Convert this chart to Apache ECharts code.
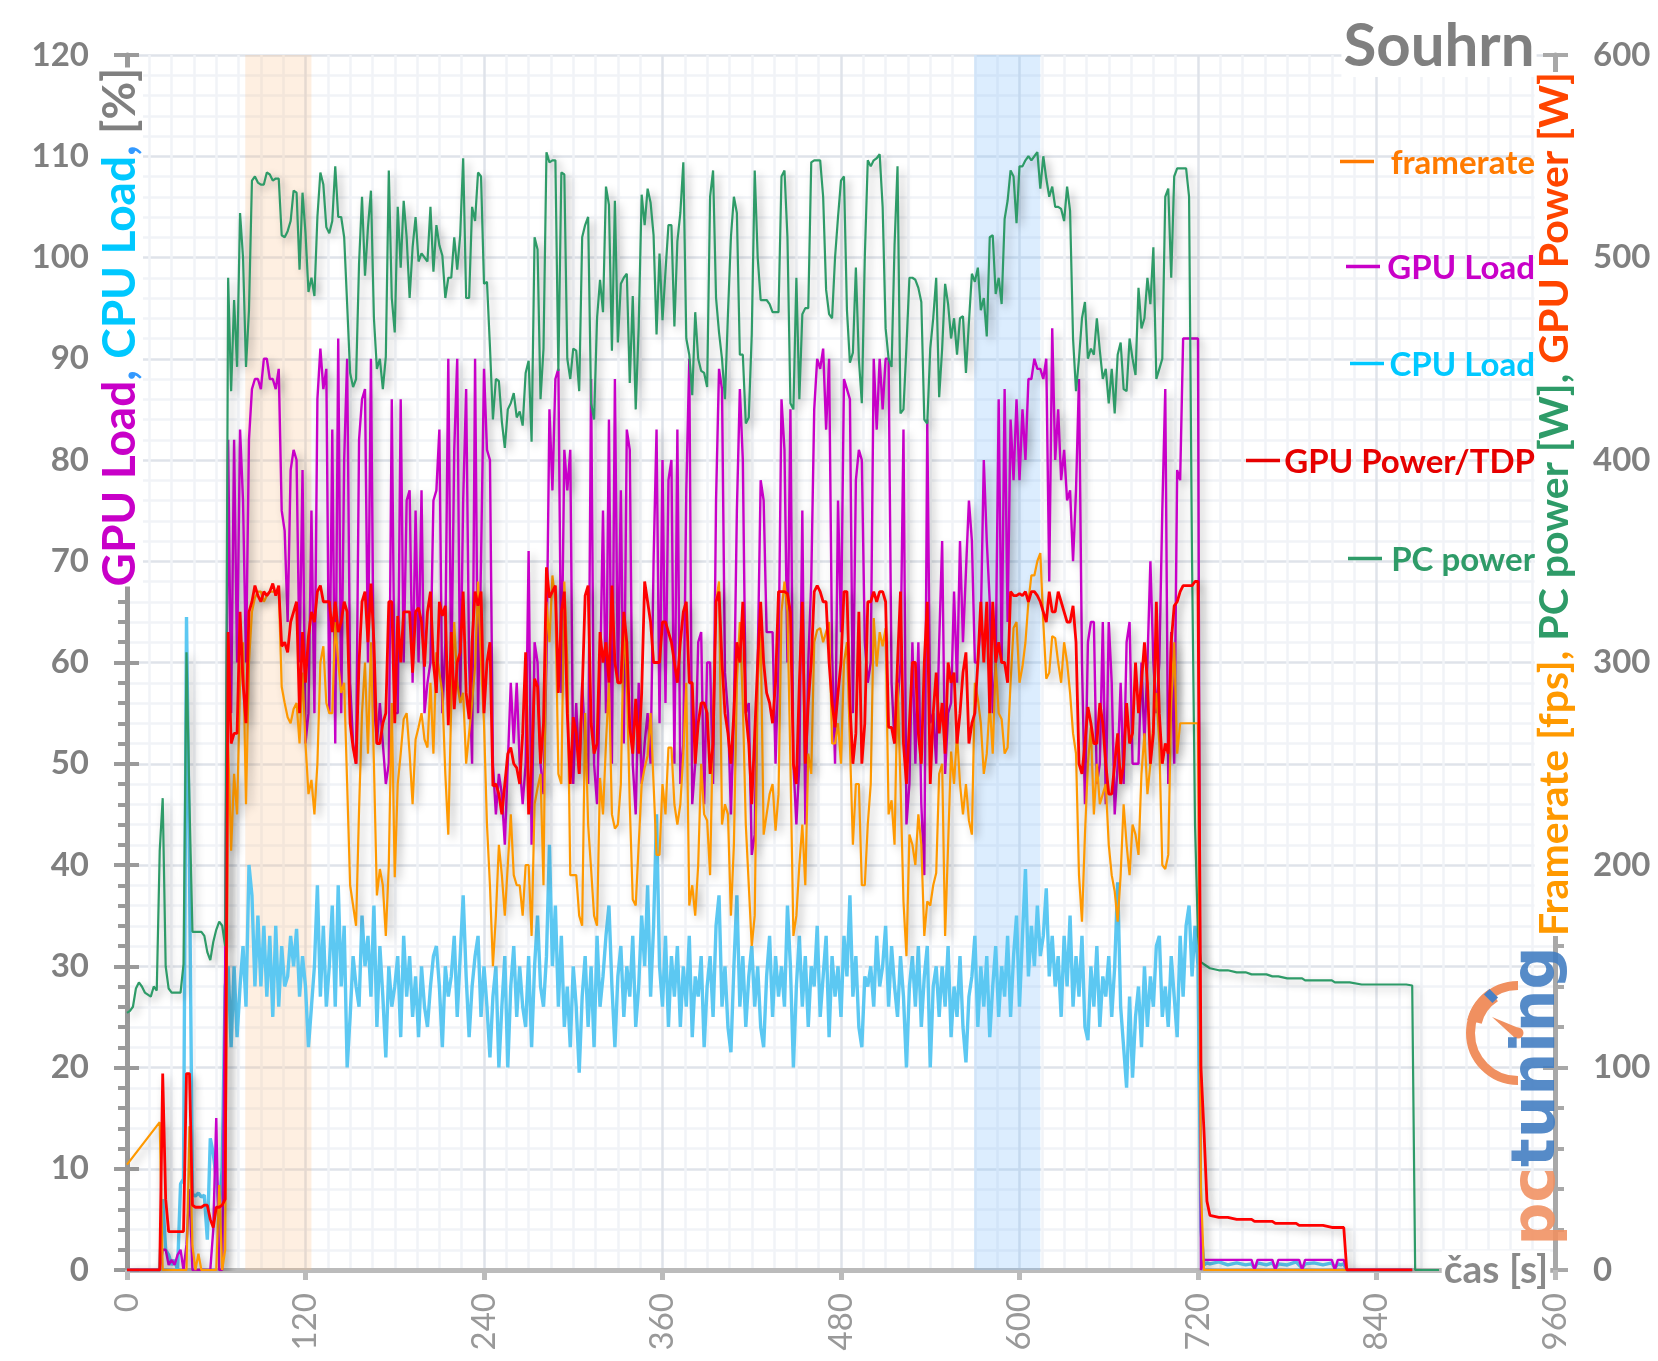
<!DOCTYPE html>
<html>
<head>
<meta charset="utf-8">
<title>Souhrn</title>
<script src="https://cdn.jsdelivr.net/npm/echarts@6/dist/echarts.min.js"></script>
<style>
  html, body { margin: 0; padding: 0; background: #fff; }
  #chart { width: 1658px; height: 1361px; }
</style>
</head>
<body>
<div id="chart"></div>
<script>
// cas: 0-720 s po 2 s, potom dobeh
var tailSeconds = [722,724,726,728,734,740,746,752,756,758,760,766,770,772,774,780,786,788,790,792,798,804,810,812,814,816,818,820,822,830,840,850,860,864,866,872,882];

// zvyraznene useky [od, do] a jejich barvy
var bandRanges = [[79.5, 124], [569.5, 614]];
var bandColors = ['rgba(250,190,130,0.24)', 'rgba(130,190,250,0.28)'];

var xTickMax = 960;
var legendNames = ['framerate', 'GPU Load', 'CPU Load', 'GPU Power/TDP', 'PC power'];

// PC power [W]
var pcPowerStart = [127,128,130,139,142,140,137,136,135,140,138,207,233,150,139,137,137,137,137,151,305,230,167,167,167,167,165,157,153,162,168,172,170,160];
var pcPowerMain = [
  490,434,479,446,522,500,446,474,538,540,
  537,536,536,542,541,538,539,539,511,510,
  513,518,533,532,494,532,512,483,490,481,
  520,542,536,515,512,518,545,520,520,510,
  477,443,436,440,497,530,491,515,533,470,
  445,450,435,451,543,480,463,525,495,528,
  510,480,505,520,498,502,500,498,525,493,
  516,506,501,480,490,490,510,494,511,549,
  480,480,525,518,542,540,487,488,456,420,
  440,439,419,406,425,428,433,421,424,417,
  443,449,409,510,504,430,455,552,547,548,
  548,444,542,541,450,440,455,454,434,510,
  516,520,428,420,470,489,473,535,526,454,
  528,458,487,490,492,438,481,425,466,531,
  516,534,527,511,462,502,469,493,516,516,
  466,508,522,547,460,452,432,473,450,444,
  443,436,530,543,480,463,450,430,472,510,
  530,522,452,452,418,421,462,543,500,479,
  479,479,477,473,473,473,540,543,510,428,
  425,490,430,472,475,475,547,548,548,548,
  530,484,472,470,500,520,538,540,474,448,
  453,495,450,428,500,548,545,548,549,551,
  525,465,450,446,506,545,423,425,456,490,
  490,489,485,478,420,418,455,470,490,431,
  455,487,477,460,470,452,470,471,443,468,
  492,488,495,474,480,461,510,511,482,490,
  477,519,528,543,540,517,545,545,548,550,
  548,550,552,534,550,539,530,535,525,525,
  524,518,535,523,460,434,450,470,478,450,
  455,452,470,454,440,445,428,445,423,452,
  458,435,434,460,450,442,485,465,470,490,
  477,505,440,445,450,530,534,490,540,544,
  544,544,544,530,350,220,165];
var pcPowerTail = [152,151,150,149,148,148,147,147,146,146,146,146,145,145,145,144,144,144,144,143,143,143,143,142,142,142,142,142,142,141,141,141,141,140.5,0,0,0];

// GPU Load [%]
var gpuLoadStart = [0,0,0,0,0,0,0,0,0,0,0,0,2,2,0.5,1,0.5,1.5,2,0,2.5,8,0,0,0,0,0,0,0,4,15,0,0,30];
var gpuLoadMain = [
  82,55,82,60,83,76,60,82,87,88,
  88,87,90,90,88,88,87,89,75,73,
  64,79,81,80,60,79,52,55,75,55,
  86,91,87,89,55,83,52,92,55,80,
  90,58,52,50,82,86,87,60,90,56,
  52,56,52,48,50,86,55,55,86,60,
  76,77,58,75,60,77,55,58,60,76,
  77,83,55,62,90,58,81,90,56,76,
  87,60,50,90,55,70,89,81,80,50,
  45,49,47,42,50,58,52,58,50,46,
  50,71,42,62,60,50,47,60,85,77,
  88,89,57,81,77,81,48,56,49,58,
  52,48,88,50,46,58,75,55,84,50,
  88,58,77,52,83,81,50,45,58,48,
  52,55,50,70,83,54,80,56,78,80,
  50,83,48,52,77,90,46,50,62,63,
  46,60,60,48,76,89,87,59,55,45,
  55,75,87,80,55,56,41,43,60,78,
  76,63,63,63,50,60,86,81,60,85,
  50,44,50,75,44,60,68,85,90,89,
  91,83,90,61,50,76,63,88,87,86,
  55,78,81,80,62,58,60,90,83,90,
  85,90,90,58,52,56,60,83,44,48,
  62,50,62,46,39,84,54,55,50,62,
  72,49,55,56,67,58,72,62,69,76,
  72,60,60,64,80,72,66,55,60,86,
  60,87,64,84,78,86,78,85,80,88,
  88,90,89,89,88,90,68,93,80,85,
  78,81,76,77,70,77,88,60,46,62,
  64,64,48,50,64,46,64,58,45,50,
  58,48,62,64,50,50,50,60,52,60,
  70,60,55,60,75,87,48,63,50,79,
  78,92,92,92,92,92,92];
var gpuLoadTail = [0,1,1,1,1,1,1,1,1,0,1,1,1,0,1,1,1,1,0,1,1,1,1,0,1,1,1,0,0,0,0,0,0,0,null,null,null];

// CPU Load [%]
var cpuLoadStart = [0,0,0,0,0,0,0,0,0,0,0,0,7,2,1.5,0.5,1,0,8.5,9,64.5,40,7.5,7.3,7.6,7.2,7.4,3,13,11.5,9,6,10,28];
var cpuLoadMain = [
  30,22,30,23,28,32,26,40,37,28,
  35,28,34,27,33,25,34,26,32,28,
  29,33,30,33.7,27,31,28,22,26,30,
  38,27,34,26,30,36,26,38,28,34,
  20,25,31,28,26,35,30,33,27,36,
  24,32,27,21,30,26,28,31,23,33,
  27,31,25,29,23,30,26,24,28,31,
  32,28,22,30,27,29,33,25,31,37,
  29,23,28,31,33,25,30,26,21,27,
  30,20,26,31,20,28,32,25,30,26,
  24,31,22,30,35,28,26,31,42,30,
  36,26,33,24,28,22,30,26,19.5,27,
  31,24,30,22,33,26,29,33,36,28,
  22,29,32,25,30,27,33,24,28,35,
  30,38,27,34,45,30,26,33,24,31,
  27,32,24,30,26,33,23,29,27,31,
  22,28,31,25,34,37,26,30,24,21.5,
  30,37,26,31,24,29,32,26,30,24,
  22,29,33,25,31,27,30,26,36,30,
  20,28,33,26,31,24,30,28,34,25,
  29,33,23,31,27,30,25,33,29,37,
  27,31,24,22,29,28,30,26,33,28,
  30,34,26,32,28,25,31,27,20,28,
  31,26,32,24,29,32,20,28,30,25,
  30,26,32,23,28,25,31,24,20.5,27,
  29,33,24,30,26,31,23,28,32,25,
  30,27,33,25,31,35,26,33,39.6,29,
  34,30,36,31,33,37.7,29,33,28,31,
  25,33,28,35,26,31,27,33,24,22.7,
  30,26,32,24,29,27,31,25,30,38.3,
  26,22,18,27,19,25,28,22,30,24,
  29,26,32,33,25,28,24,31,27,23,
  33,27,34,36,29,34,30];
var cpuLoadTail = [4,0.5,0.7,0.6,0.8,0.5,0.7,0.5,0.6,0.2,0.7,0.5,0.7,0.2,0.6,0.5,0.8,0.5,0.2,0.6,0.7,0.5,0.7,0.2,0.6,0.5,0.6,0,0,0,0,0,0,0,null,null,null];

// Framerate [fps], zacatek ma jen dva vzorky
var framerateStart = [52,null,null,null,null,null,null,null,null,null,null,73,0,0,0,0,0,0,0,0,0,71,12,0,8,0,0,0,0,0,0,42,0,10];
var framerateMain = [
  260,207,245,225,290,310,230,300,325,332,
  335,335,330,333,335,335,335,337,288,280,
  273,270,277,280,260,295,260,235,242,225,
  250,300,308,280,275,275,320,300,285,290,
  240,190,180,170,227,275,300,255,310,250,
  185,198,190,165,200,280,194,240,255,272,
  275,255,230,262,268,275,262,258,290,255,
  305,295,285,245,215,280,320,290,280,285,
  250,265,280,298,340,300,270,220,190,150,
  175,210,195,175,200,225,195,190,190,175,
  200,200,165,230,238,245,190,330,310,343,
  330,245,240,340,300,195,195,195,175,170,
  275,220,198,175,170,243,225,260,290,225,
  218,220,240,320,292,230,183,180,210,240,
  248,254,275,240,205,205,240,225,258,258,
  230,220,230,255,290,180,190,175,200,250,
  225,222,195,270,330,340,220,230,225,175,
  210,290,320,280,220,190,160,175,290,315,
  215,225,235,240,217,235,325,340,325,250,
  165,175,200,220,190,255,245,310,316,317,
  310,315,320,260,260,270,250,300,310,260,
  210,240,240,190,190,220,240,322,298,315,
  308,317,225,232,210,290,240,182,155,215,
  210,200,225,210,165,182,180,190,196,245,
  250,165,210,256,240,265,240,225,240,222,
  215,290,282,270,245,255,280,255,300,275,
  272,255,258,290,317,320,290,298,310,330,
  343,343,350,354,320,292,295,313,312,300,
  290,310,300,285,265,255,195,172,215,250,
  268,225,250,230,235,240,210,195,187,172,
  195,230,210,195,220,215,205,245,265,235,
  250,270,285,260,200,198,205,280,310,255,
  270,270,270,270,270,270,270];
var framerateTail = [40,0,0,0,0,0,0,0,0,0,0,0,0,0,0,0,0,0,0,0,0,0,0,0,0,0,0,0,0,0,0,0,0,0,null,null,null];

// GPU Power [W]
var gpuPowerStart = [0,0,0,0,0,0,0,0,0,0,0,0,97,35,19,19,19,19,19,19,97,97,32,31,31,31,32,32,25,21,31,31,32,35];
var gpuPowerMain = [
  315,260,265,265,325,290,270,325,330,338,
  333,330,335,333,335,339,333,338,308,310,
  305,320,325,330,275,315,290,313,325,320,
  335,338,330,330,330,315,330,315,320,330,
  325,270,258,250,300,330,335,310,339,310,
  260,260,270,275,330,330,270,323,300,325,
  325,325,295,325,327,320,298,325,335,300,
  285,330,323,328,269,315,277,300,305,335,
  285,272,310,335,328,335,275,300,310,239,
  240,235,225,240,255,258,250,248,240,265,
  305,225,250,292,288,250,270,347,332,335,
  338,285,325,335,275,240,273,265,245,285,
  333,338,270,255,260,315,300,310,290,338,
  300,290,290,325,310,268,255,282,255,285,
  340,330,320,300,300,300,320,320,315,310,
  300,290,310,325,330,290,290,250,270,280,
  280,275,245,260,330,335,300,275,265,250,
  275,310,300,330,275,260,230,265,300,330,
  300,285,280,270,290,335,335,335,334,325,
  250,240,290,330,250,280,300,335,338,335,
  330,330,300,280,268,285,300,335,335,280,
  250,265,325,250,270,330,330,335,330,335,
  335,330,268,268,260,300,335,260,240,270,
  300,300,265,250,300,330,240,275,295,265,
  280,255,300,290,295,260,275,295,305,260,
  270,275,300,330,300,330,275,330,300,310,
  300,300,290,335,333,333,334,333,335,330,
  335,335,333,330,325,320,335,325,325,335,
  330,325,320,320,328,310,250,245,260,278,
  270,260,260,280,270,250,235,235,250,265,
  240,250,280,260,265,300,275,290,310,290,
  250,265,330,275,250,260,255,310,328,330,
  335,338,338,338,338,340,340];
var gpuPowerTail = [100,69,34,27,26,26,25,25,25,24,24,24,24,23,23,23,23,22,22,22,22,22,21,21,21,21,21,0,0,0,0,0,0,0,null,null,null];

function buildPoints(start, main, tail) {
    var values = start.concat(main);
    var points = [];
    for (var i = 0; i < values.length; i++) {
        points.push([i * 2, values[i]]);
    }
    for (var j = 0; j < tail.length; j++) {
        points.push([tailSeconds[j], tail[j]]);
    }
    return points;
}

var FONT = 'Lato';
var GREY = '#808080';

function lineSeries(name, points, color, width, yIndex, shadow) {
    var style = { color: color, width: width };
    if (shadow) {
        style.shadowColor = 'rgba(0,0,0,0.3)';
        style.shadowBlur = 9;
        style.shadowOffsetX = 4;
        style.shadowOffsetY = 4;
    }
    return {
        name: name, type: 'line', yAxisIndex: yIndex, data: points,
        showSymbol: false, symbol: 'none', smooth: false, connectNulls: true,
        lineStyle: style, itemStyle: { color: color }, silent: true
    };
}

var cpuSeries = lineSeries('CPU Load', buildPoints(cpuLoadStart, cpuLoadMain, cpuLoadTail), '#5cc8f2', 3.4, 0, false);
cpuSeries.markArea = {
    silent: true,
    data: bandRanges.map(function (r, i) {
        return [{ xAxis: r[0], itemStyle: { color: bandColors[i] } }, { xAxis: r[1] }];
    })
};

var series = [
    cpuSeries,
    lineSeries('GPU Load', buildPoints(gpuLoadStart, gpuLoadMain, gpuLoadTail), '#c800c8', 2.4, 0, true),
    lineSeries('PC power', buildPoints(pcPowerStart, pcPowerMain, pcPowerTail), '#2e9b68', 2.2, 1, true),
    lineSeries('framerate', buildPoints(framerateStart, framerateMain, framerateTail), '#ff9900', 2.2, 1, true),
    lineSeries('GPU Power/TDP', buildPoints(gpuPowerStart, gpuPowerMain, gpuPowerTail), '#ff0000', 2.8, 1, true)
];

// legenda je v originale rozhazena po plose, proto graphic
var legendColors = ['#ff7a00', '#c800c8', '#00c8ff', '#e60000', '#2e9b68'];
var legendY = [163, 268, 365, 462, 560];
var legendLineX = [1340, 1346, 1350, 1246, 1348];
var graphics = [];
legendNames.forEach(function (name, i) {
    graphics.push({
        type: 'text', z: 50, x: 1535, y: legendY[i],
        style: { text: name, fill: legendColors[i], font: 'bold 33px ' + FONT, textAlign: 'right', textVerticalAlign: 'middle' }
    });
    graphics.push({
        type: 'line', z: 50,
        shape: { x1: legendLineX[i], y1: legendY[i] - 1.5, x2: legendLineX[i] + 34, y2: legendY[i] - 1.5 },
        style: { stroke: legendColors[i], lineWidth: 3.5 }
    });
});

graphics.push({
    type: 'text', z: 40, x: 1439, y: 47,
    style: { text: 'Souhrn', fill: GREY, font: 'bold 60px ' + FONT, textAlign: 'center', textVerticalAlign: 'middle', backgroundColor: '#fff', padding: [0, 2] }
});
graphics.push({
    type: 'text', z: 40, x: 1496, y: 1270,
    style: { text: 'čas [s]', fill: '#8a8a8a', font: 'bold 39px ' + FONT, textAlign: 'center', textVerticalAlign: 'middle', backgroundColor: '#fff', padding: [0, 2] }
});
graphics.push({
    type: 'text', z: 40, x: 120, y: 327, rotation: Math.PI / 2,
    style: {
        text: '{a|GPU Load}{b|, }{c|CPU Load}{b|, }{d|[%]}',
        textAlign: 'center', textVerticalAlign: 'middle', backgroundColor: '#fff',
        rich: {
            a: { fill: '#c800c8', font: 'bold 46px ' + FONT },
            b: { fill: '#3399ff', font: 'bold 46px ' + FONT },
            c: { fill: '#00c8ff', font: 'bold 46px ' + FONT },
            d: { fill: GREY, font: 'bold 46px ' + FONT }
        }
    }
});
graphics.push({
    type: 'text', z: 40, x: 1555, y: 504, rotation: Math.PI / 2,
    style: {
        text: '{a|Framerate [fps], }{b|PC power [W], }{c|GPU Power [W]}',
        textAlign: 'center', textVerticalAlign: 'middle', backgroundColor: '#fff',
        rich: {
            a: { fill: '#ff9900', font: 'bold 41px ' + FONT },
            b: { fill: '#2e9b68', font: 'bold 41px ' + FONT },
            c: { fill: '#ff4500', font: 'bold 41px ' + FONT }
        }
    }
});

// logo pctuning
graphics.push({
    type: 'arc', z: 45,
    shape: { cx: 1518, cy: 1033, r: 47.5, startAngle: Math.PI * 0.5, endAngle: Math.PI * 1.5, clockwise: true },
    style: { stroke: '#f09060', fill: null, lineWidth: 9 }
});
graphics.push({
    type: 'arc', z: 45,
    shape: { cx: 1518, cy: 1033, r: 45, startAngle: Math.PI * 1.08, endAngle: Math.PI * 1.32, clockwise: true },
    style: { stroke: '#f09060', fill: null, lineWidth: 15 }
});
graphics.push({
    type: 'polygon', z: 45,
    shape: { points: [[1492, 1017], [1521, 1029], [1515, 1038]] },
    style: { fill: '#f09060' }
});
graphics.push({ type: 'circle', z: 45, shape: { cx: 1518, cy: 1033, r: 5.5 }, style: { fill: '#f09060' } });
graphics.push({
    type: 'rect', z: 45, x: 1491, y: 996, rotation: -Math.PI / 4,
    shape: { x: -6, y: -4, width: 12, height: 8 }, style: { fill: '#4a80c4' }
});
graphics.push({
    type: 'text', z: 45, x: 1538, y: 1096, rotation: Math.PI / 2, style: {
        text: '{a|pc}{b|tuning}', textAlign: 'center', textVerticalAlign: 'middle', opacity: 0.88,
        rich: {
            a: { fill: '#f09060', font: 'bold 60px "DejaVu Sans"' },
            b: { fill: '#3f7bc0', font: 'bold 60px "DejaVu Sans"' }
        }
    }
});

function valueAxis(position, max, interval, tickColor, extra) {
    var axis = {
        type: 'value', position: position, min: 0, max: max, interval: interval,
        axisLine: { show: true, lineStyle: { color: tickColor, width: 5 } },
        axisTick: { show: true, length: 13, lineStyle: { color: tickColor, width: 4 } },
        minorTick: { show: true, splitNumber: 5, length: 9, lineStyle: { color: tickColor, width: 4 } },
        axisLabel: { color: GREY, fontFamily: FONT, fontWeight: 'bold', fontSize: 33, margin: 38 },
        splitLine: { show: false }
    };
    for (var k in extra) { axis[k] = extra[k]; }
    return axis;
}

// vnitrni cast carek na osach Y
function innerTicks(position, max, interval, tickColor) {
    return {
        type: 'value', position: position, min: 0, max: max, interval: interval,
        axisLine: { show: false },
        axisTick: { show: true, inside: true, length: 12, lineStyle: { color: tickColor, width: 4 } },
        axisLabel: { show: false },
        splitLine: { show: false }
    };
}

var option = {
    animation: false,
    backgroundColor: '#fff',
    grid: { left: 127, right: 103, top: 55, bottom: 91, containLabel: false },
    xAxis: {
        type: 'value', min: 0, max: xTickMax, interval: 120,
        axisLine: { show: true, onZero: false, lineStyle: { color: '#bbbbbb', width: 5 } },
        axisTick: { show: true, length: 10, lineStyle: { color: '#bbbbbb', width: 5 } },
        minorTick: { show: false, splitNumber: 8 },
        axisLabel: { rotate: 90, color: '#999999', fontFamily: FONT, fontSize: 33, margin: 23 },
        splitLine: { show: true, lineStyle: { color: '#dfe3ea', width: 2.5 } },
        minorSplitLine: { show: true, lineStyle: { color: '#f1f3f7', width: 2.5 } }
    },
    yAxis: [
        valueAxis('left', 120, 10, '#9a9a9a', {
            splitLine: { show: true, lineStyle: { color: '#dfe3ea', width: 2.5 } },
            minorSplitLine: { show: true, lineStyle: { color: '#f1f3f7', width: 2.5 } }
        }),
        valueAxis('right', 600, 100, '#a8a8a8', {}),
        innerTicks('left', 120, 10, '#9a9a9a'),
        innerTicks('right', 600, 100, '#a8a8a8')
    ],
    series: series,
    graphic: { elements: graphics }
};

var chart = echarts.init(document.getElementById('chart'), null, { renderer: 'canvas' });
chart.setOption(option);
</script>
</body>
</html>
